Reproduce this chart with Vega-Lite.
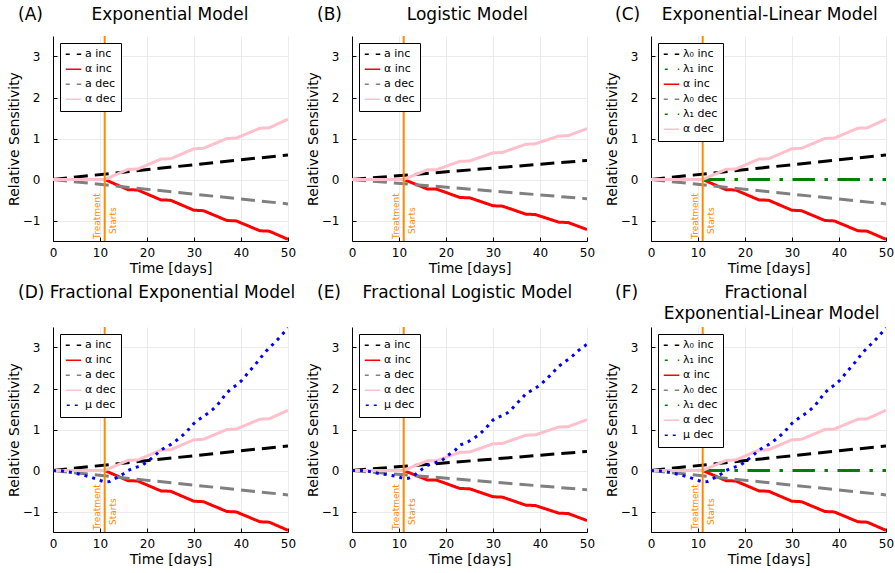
{
  "$schema": "https://vega.github.io/schema/vega-lite/v6.json",
  "padding": {"left": 7, "top": 6, "right": 0, "bottom": 0},
  "background": "white",
  "columns": 3,
  "bounds": "flush",
  "spacing": {"row": 86, "column": 64},
  "data": {"values": [
    {"ps": ["A","D"], "s": "a inc", "t": 0, "v": 0},
    {"ps": ["A","D"], "s": "a inc", "t": 50, "v": 0.6},
    {"ps": ["B","E"], "s": "a inc", "t": 0, "v": 0},
    {"ps": ["B","E"], "s": "a inc", "t": 50, "v": 0.465},
    {"ps": ["C","F"], "s": "λ₀ inc", "t": 0, "v": 0},
    {"ps": ["C","F"], "s": "λ₀ inc", "t": 50, "v": 0.6},
    {"ps": ["C","F"], "s": "λ₁ inc", "t": 11, "v": 0},
    {"ps": ["C","F"], "s": "λ₁ inc", "t": 50, "v": 0},
    {"ps": ["A","C","D","F"], "s": "α inc", "t": 0, "v": 0},
    {"ps": ["A","C","D","F"], "s": "α inc", "t": 11, "v": 0},
    {"ps": ["A","C","D","F"], "s": "α inc", "t": 16, "v": -0.25},
    {"ps": ["A","C","D","F"], "s": "α inc", "t": 18, "v": -0.255},
    {"ps": ["A","C","D","F"], "s": "α inc", "t": 23, "v": -0.5},
    {"ps": ["A","C","D","F"], "s": "α inc", "t": 25, "v": -0.505},
    {"ps": ["A","C","D","F"], "s": "α inc", "t": 30, "v": -0.75},
    {"ps": ["A","C","D","F"], "s": "α inc", "t": 32, "v": -0.76},
    {"ps": ["A","C","D","F"], "s": "α inc", "t": 37, "v": -1.0},
    {"ps": ["A","C","D","F"], "s": "α inc", "t": 39, "v": -1.01},
    {"ps": ["A","C","D","F"], "s": "α inc", "t": 44, "v": -1.25},
    {"ps": ["A","C","D","F"], "s": "α inc", "t": 46, "v": -1.26},
    {"ps": ["A","C","D","F"], "s": "α inc", "t": 50, "v": -1.46},
    {"ps": ["B","E"], "s": "α inc", "t": 0, "v": 0},
    {"ps": ["B","E"], "s": "α inc", "t": 11, "v": 0},
    {"ps": ["B","E"], "s": "α inc", "t": 16, "v": -0.23},
    {"ps": ["B","E"], "s": "α inc", "t": 18, "v": -0.235},
    {"ps": ["B","E"], "s": "α inc", "t": 23, "v": -0.44},
    {"ps": ["B","E"], "s": "α inc", "t": 25, "v": -0.445},
    {"ps": ["B","E"], "s": "α inc", "t": 30, "v": -0.64},
    {"ps": ["B","E"], "s": "α inc", "t": 32, "v": -0.65},
    {"ps": ["B","E"], "s": "α inc", "t": 37, "v": -0.845},
    {"ps": ["B","E"], "s": "α inc", "t": 39, "v": -0.855},
    {"ps": ["B","E"], "s": "α inc", "t": 44, "v": -1.04},
    {"ps": ["B","E"], "s": "α inc", "t": 46, "v": -1.05},
    {"ps": ["B","E"], "s": "α inc", "t": 50, "v": -1.22},
    {"ps": ["A","D"], "s": "a dec", "t": 0, "v": 0},
    {"ps": ["A","D"], "s": "a dec", "t": 50, "v": -0.595},
    {"ps": ["B","E"], "s": "a dec", "t": 0, "v": 0},
    {"ps": ["B","E"], "s": "a dec", "t": 50, "v": -0.47},
    {"ps": ["C","F"], "s": "λ₀ dec", "t": 0, "v": 0},
    {"ps": ["C","F"], "s": "λ₀ dec", "t": 50, "v": -0.595},
    {"ps": ["C","F"], "s": "λ₁ dec", "t": 11, "v": 0},
    {"ps": ["C","F"], "s": "λ₁ dec", "t": 50, "v": 0},
    {"ps": ["A","C","D","F"], "s": "α dec", "t": 0, "v": 0},
    {"ps": ["A","C","D","F"], "s": "α dec", "t": 11, "v": 0},
    {"ps": ["A","C","D","F"], "s": "α dec", "t": 16, "v": 0.25},
    {"ps": ["A","C","D","F"], "s": "α dec", "t": 18, "v": 0.255},
    {"ps": ["A","C","D","F"], "s": "α dec", "t": 23, "v": 0.5},
    {"ps": ["A","C","D","F"], "s": "α dec", "t": 25, "v": 0.505},
    {"ps": ["A","C","D","F"], "s": "α dec", "t": 30, "v": 0.75},
    {"ps": ["A","C","D","F"], "s": "α dec", "t": 32, "v": 0.76},
    {"ps": ["A","C","D","F"], "s": "α dec", "t": 37, "v": 1.0},
    {"ps": ["A","C","D","F"], "s": "α dec", "t": 39, "v": 1.01},
    {"ps": ["A","C","D","F"], "s": "α dec", "t": 44, "v": 1.25},
    {"ps": ["A","C","D","F"], "s": "α dec", "t": 46, "v": 1.26},
    {"ps": ["A","C","D","F"], "s": "α dec", "t": 50, "v": 1.47},
    {"ps": ["B","E"], "s": "α dec", "t": 0, "v": 0},
    {"ps": ["B","E"], "s": "α dec", "t": 11, "v": 0},
    {"ps": ["B","E"], "s": "α dec", "t": 16, "v": 0.235},
    {"ps": ["B","E"], "s": "α dec", "t": 18, "v": 0.24},
    {"ps": ["B","E"], "s": "α dec", "t": 23, "v": 0.445},
    {"ps": ["B","E"], "s": "α dec", "t": 25, "v": 0.45},
    {"ps": ["B","E"], "s": "α dec", "t": 30, "v": 0.65},
    {"ps": ["B","E"], "s": "α dec", "t": 32, "v": 0.66},
    {"ps": ["B","E"], "s": "α dec", "t": 37, "v": 0.86},
    {"ps": ["B","E"], "s": "α dec", "t": 39, "v": 0.87},
    {"ps": ["B","E"], "s": "α dec", "t": 44, "v": 1.06},
    {"ps": ["B","E"], "s": "α dec", "t": 46, "v": 1.07},
    {"ps": ["B","E"], "s": "α dec", "t": 50, "v": 1.24},
    {"ps": ["D","F"], "s": "μ dec", "t": 0, "v": 0},
    {"ps": ["D","F"], "s": "μ dec", "t": 1, "v": -0.005},
    {"ps": ["D","F"], "s": "μ dec", "t": 2, "v": -0.01},
    {"ps": ["D","F"], "s": "μ dec", "t": 3, "v": -0.03},
    {"ps": ["D","F"], "s": "μ dec", "t": 4, "v": -0.05},
    {"ps": ["D","F"], "s": "μ dec", "t": 5, "v": -0.07},
    {"ps": ["D","F"], "s": "μ dec", "t": 6, "v": -0.1},
    {"ps": ["D","F"], "s": "μ dec", "t": 7, "v": -0.13},
    {"ps": ["D","F"], "s": "μ dec", "t": 8, "v": -0.16},
    {"ps": ["D","F"], "s": "μ dec", "t": 9, "v": -0.2},
    {"ps": ["D","F"], "s": "μ dec", "t": 10, "v": -0.24},
    {"ps": ["D","F"], "s": "μ dec", "t": 11, "v": -0.28},
    {"ps": ["D","F"], "s": "μ dec", "t": 12, "v": -0.27},
    {"ps": ["D","F"], "s": "μ dec", "t": 13, "v": -0.21},
    {"ps": ["D","F"], "s": "μ dec", "t": 14, "v": -0.15},
    {"ps": ["D","F"], "s": "μ dec", "t": 15, "v": -0.08},
    {"ps": ["D","F"], "s": "μ dec", "t": 16, "v": 0.0},
    {"ps": ["D","F"], "s": "μ dec", "t": 17, "v": 0.05},
    {"ps": ["D","F"], "s": "μ dec", "t": 18, "v": 0.09},
    {"ps": ["D","F"], "s": "μ dec", "t": 19, "v": 0.13},
    {"ps": ["D","F"], "s": "μ dec", "t": 20, "v": 0.21},
    {"ps": ["D","F"], "s": "μ dec", "t": 21, "v": 0.3},
    {"ps": ["D","F"], "s": "μ dec", "t": 22, "v": 0.4},
    {"ps": ["D","F"], "s": "μ dec", "t": 23, "v": 0.5},
    {"ps": ["D","F"], "s": "μ dec", "t": 24, "v": 0.57},
    {"ps": ["D","F"], "s": "μ dec", "t": 25, "v": 0.63},
    {"ps": ["D","F"], "s": "μ dec", "t": 26, "v": 0.71},
    {"ps": ["D","F"], "s": "μ dec", "t": 27, "v": 0.8},
    {"ps": ["D","F"], "s": "μ dec", "t": 28, "v": 0.9},
    {"ps": ["D","F"], "s": "μ dec", "t": 29, "v": 1.02},
    {"ps": ["D","F"], "s": "μ dec", "t": 30, "v": 1.15},
    {"ps": ["D","F"], "s": "μ dec", "t": 31, "v": 1.24},
    {"ps": ["D","F"], "s": "μ dec", "t": 32, "v": 1.32},
    {"ps": ["D","F"], "s": "μ dec", "t": 33, "v": 1.4},
    {"ps": ["D","F"], "s": "μ dec", "t": 34, "v": 1.49},
    {"ps": ["D","F"], "s": "μ dec", "t": 35, "v": 1.6},
    {"ps": ["D","F"], "s": "μ dec", "t": 36, "v": 1.75},
    {"ps": ["D","F"], "s": "μ dec", "t": 37, "v": 1.9},
    {"ps": ["D","F"], "s": "μ dec", "t": 38, "v": 2.0},
    {"ps": ["D","F"], "s": "μ dec", "t": 39, "v": 2.08},
    {"ps": ["D","F"], "s": "μ dec", "t": 40, "v": 2.18},
    {"ps": ["D","F"], "s": "μ dec", "t": 41, "v": 2.31},
    {"ps": ["D","F"], "s": "μ dec", "t": 42, "v": 2.45},
    {"ps": ["D","F"], "s": "μ dec", "t": 43, "v": 2.58},
    {"ps": ["D","F"], "s": "μ dec", "t": 44, "v": 2.72},
    {"ps": ["D","F"], "s": "μ dec", "t": 45, "v": 2.87},
    {"ps": ["D","F"], "s": "μ dec", "t": 46, "v": 2.99},
    {"ps": ["D","F"], "s": "μ dec", "t": 47, "v": 3.1},
    {"ps": ["D","F"], "s": "μ dec", "t": 48, "v": 3.22},
    {"ps": ["D","F"], "s": "μ dec", "t": 49, "v": 3.35},
    {"ps": ["D","F"], "s": "μ dec", "t": 50, "v": 3.48},
    {"ps": ["E"], "s": "μ dec", "t": 0, "v": 0},
    {"ps": ["E"], "s": "μ dec", "t": 2, "v": 0},
    {"ps": ["E"], "s": "μ dec", "t": 4, "v": -0.03},
    {"ps": ["E"], "s": "μ dec", "t": 6, "v": -0.08},
    {"ps": ["E"], "s": "μ dec", "t": 8, "v": -0.11},
    {"ps": ["E"], "s": "μ dec", "t": 10, "v": -0.16},
    {"ps": ["E"], "s": "μ dec", "t": 11, "v": -0.2},
    {"ps": ["E"], "s": "μ dec", "t": 12, "v": -0.19},
    {"ps": ["E"], "s": "μ dec", "t": 13, "v": -0.14},
    {"ps": ["E"], "s": "μ dec", "t": 14, "v": -0.05},
    {"ps": ["E"], "s": "μ dec", "t": 15, "v": 0.04},
    {"ps": ["E"], "s": "μ dec", "t": 16, "v": 0.12},
    {"ps": ["E"], "s": "μ dec", "t": 17, "v": 0.17},
    {"ps": ["E"], "s": "μ dec", "t": 18, "v": 0.2},
    {"ps": ["E"], "s": "μ dec", "t": 19, "v": 0.23},
    {"ps": ["E"], "s": "μ dec", "t": 20, "v": 0.33},
    {"ps": ["E"], "s": "μ dec", "t": 21, "v": 0.42},
    {"ps": ["E"], "s": "μ dec", "t": 22, "v": 0.5},
    {"ps": ["E"], "s": "μ dec", "t": 23, "v": 0.62},
    {"ps": ["E"], "s": "μ dec", "t": 24, "v": 0.67},
    {"ps": ["E"], "s": "μ dec", "t": 25, "v": 0.72},
    {"ps": ["E"], "s": "μ dec", "t": 26, "v": 0.79},
    {"ps": ["E"], "s": "μ dec", "t": 27, "v": 0.87},
    {"ps": ["E"], "s": "μ dec", "t": 28, "v": 0.98},
    {"ps": ["E"], "s": "μ dec", "t": 29, "v": 1.1},
    {"ps": ["E"], "s": "μ dec", "t": 30, "v": 1.23},
    {"ps": ["E"], "s": "μ dec", "t": 31, "v": 1.29},
    {"ps": ["E"], "s": "μ dec", "t": 32, "v": 1.34},
    {"ps": ["E"], "s": "μ dec", "t": 33, "v": 1.4},
    {"ps": ["E"], "s": "μ dec", "t": 34, "v": 1.5},
    {"ps": ["E"], "s": "μ dec", "t": 35, "v": 1.63},
    {"ps": ["E"], "s": "μ dec", "t": 36, "v": 1.74},
    {"ps": ["E"], "s": "μ dec", "t": 37, "v": 1.87},
    {"ps": ["E"], "s": "μ dec", "t": 38, "v": 1.94},
    {"ps": ["E"], "s": "μ dec", "t": 39, "v": 2.01},
    {"ps": ["E"], "s": "μ dec", "t": 40, "v": 2.08},
    {"ps": ["E"], "s": "μ dec", "t": 41, "v": 2.19},
    {"ps": ["E"], "s": "μ dec", "t": 42, "v": 2.3},
    {"ps": ["E"], "s": "μ dec", "t": 43, "v": 2.42},
    {"ps": ["E"], "s": "μ dec", "t": 44, "v": 2.54},
    {"ps": ["E"], "s": "μ dec", "t": 45, "v": 2.63},
    {"ps": ["E"], "s": "μ dec", "t": 46, "v": 2.71},
    {"ps": ["E"], "s": "μ dec", "t": 47, "v": 2.8},
    {"ps": ["E"], "s": "μ dec", "t": 48, "v": 2.91},
    {"ps": ["E"], "s": "μ dec", "t": 49, "v": 3.0},
    {"ps": ["E"], "s": "μ dec", "t": 50, "v": 3.08}
  ]},
  "resolve": {"scale": {"color": "independent", "strokeDash": "independent"}, "legend": {"color": "independent", "strokeDash": "independent"}},
  "concat": [
    {
      "width": 235, "height": 205,
      "title": {"text": "(A)\u00a0\u00a0\u00a0\u00a0\u00a0\u00a0\u00a0\u00a0\u00a0Exponential Model", "dx": -35, "offset": 11},
      "layer": [
        {
          "transform": [{"flatten": ["ps"], "as": ["p"]}, {"filter": "datum.p === 'A'"}],
          "mark": {"type": "line", "strokeWidth": 3, "clip": true},
          "encoding": {
            "x": {"field": "t", "type": "quantitative", "scale": {"domain": [0, 50], "nice": false}, "axis": {"values": [0, 10, 20, 30, 40, 50], "title": "Time [days]"}},
            "y": {"field": "v", "type": "quantitative", "scale": {"domain": [-1.5, 3.5], "nice": false, "zero": false}, "axis": {"values": [-1, 0, 1, 2, 3], "title": "Relative Sensitivity"}},
            "color": {"field": "s", "type": "nominal", "scale": {"domain": ["a inc", "α inc", "a dec", "α dec"], "range": ["#000000", "#ff0000", "#808080", "#ffc0cb"]}, "legend": {"title": null}},
            "strokeDash": {"field": "s", "type": "nominal", "scale": {"domain": ["a inc", "α inc", "a dec", "α dec"], "range": [[14, 7], [1, 0], [14, 7], [1, 0]]}, "legend": {"title": null}}
          }
        },
        {"data": {"values": [{}]}, "mark": {"type": "rule", "color": "#ff8a00", "strokeWidth": 2}, "encoding": {"x": {"datum": 11}}},
        {"data": {"values": [{}]}, "mark": {"type": "text", "text": "Treatment", "angle": 270, "align": "left", "baseline": "bottom", "dy": -3, "fontSize": 9, "color": "#ff8a00"}, "encoding": {"x": {"datum": 11}, "y": {"datum": -1.45}}},
        {"data": {"values": [{}]}, "mark": {"type": "text", "text": "Starts", "angle": 270, "align": "left", "baseline": "top", "dy": 4, "fontSize": 9, "color": "#ff8a00"}, "encoding": {"x": {"datum": 11}, "y": {"datum": -1.33}}}
      ]
    },
    {
      "width": 235, "height": 205,
      "title": {"text": "(B)\u00a0\u00a0\u00a0\u00a0\u00a0\u00a0\u00a0\u00a0\u00a0\u00a0\u00a0\u00a0Logistic Model", "dx": -35, "offset": 11},
      "layer": [
        {
          "transform": [{"flatten": ["ps"], "as": ["p"]}, {"filter": "datum.p === 'B'"}],
          "mark": {"type": "line", "strokeWidth": 3, "clip": true},
          "encoding": {
            "x": {"field": "t", "type": "quantitative", "scale": {"domain": [0, 50], "nice": false}, "axis": {"values": [0, 10, 20, 30, 40, 50], "title": "Time [days]"}},
            "y": {"field": "v", "type": "quantitative", "scale": {"domain": [-1.5, 3.5], "nice": false, "zero": false}, "axis": {"values": [-1, 0, 1, 2, 3], "title": "Relative Sensitivity"}},
            "color": {"field": "s", "type": "nominal", "scale": {"domain": ["a inc", "α inc", "a dec", "α dec"], "range": ["#000000", "#ff0000", "#808080", "#ffc0cb"]}, "legend": {"title": null}},
            "strokeDash": {"field": "s", "type": "nominal", "scale": {"domain": ["a inc", "α inc", "a dec", "α dec"], "range": [[14, 7], [1, 0], [14, 7], [1, 0]]}, "legend": {"title": null}}
          }
        },
        {"data": {"values": [{}]}, "mark": {"type": "rule", "color": "#ff8a00", "strokeWidth": 2}, "encoding": {"x": {"datum": 11}}},
        {"data": {"values": [{}]}, "mark": {"type": "text", "text": "Treatment", "angle": 270, "align": "left", "baseline": "bottom", "dy": -3, "fontSize": 9, "color": "#ff8a00"}, "encoding": {"x": {"datum": 11}, "y": {"datum": -1.45}}},
        {"data": {"values": [{}]}, "mark": {"type": "text", "text": "Starts", "angle": 270, "align": "left", "baseline": "top", "dy": 4, "fontSize": 9, "color": "#ff8a00"}, "encoding": {"x": {"datum": 11}, "y": {"datum": -1.33}}}
      ]
    },
    {
      "width": 235, "height": 205,
      "title": {"text": "(C)\u00a0\u00a0\u00a0\u00a0Exponential-Linear Model", "dx": -36, "offset": 11},
      "layer": [
        {
          "transform": [{"flatten": ["ps"], "as": ["p"]}, {"filter": "datum.p === 'C'"}],
          "mark": {"type": "line", "strokeWidth": 3, "clip": true},
          "encoding": {
            "x": {"field": "t", "type": "quantitative", "scale": {"domain": [0, 50], "nice": false}, "axis": {"values": [0, 10, 20, 30, 40, 50], "title": "Time [days]"}},
            "y": {"field": "v", "type": "quantitative", "scale": {"domain": [-1.5, 3.5], "nice": false, "zero": false}, "axis": {"values": [-1, 0, 1, 2, 3], "title": "Relative Sensitivity"}},
            "color": {"field": "s", "type": "nominal", "scale": {"domain": ["λ₀ inc", "λ₁ inc", "α inc", "λ₀ dec", "λ₁ dec", "α dec"], "range": ["#000000", "#008000", "#ff0000", "#808080", "#008000", "#ffc0cb"]}, "legend": {"title": null}},
            "strokeDash": {"field": "s", "type": "nominal", "scale": {"domain": ["λ₀ inc", "λ₁ inc", "α inc", "λ₀ dec", "λ₁ dec", "α dec"], "range": [[14, 7], [22, 10, 3, 10], [1, 0], [14, 7], [22, 10, 3, 10], [1, 0]]}, "legend": {"title": null}}
          }
        },
        {"data": {"values": [{}]}, "mark": {"type": "rule", "color": "#ff8a00", "strokeWidth": 2}, "encoding": {"x": {"datum": 11}}},
        {"data": {"values": [{}]}, "mark": {"type": "text", "text": "Treatment", "angle": 270, "align": "left", "baseline": "bottom", "dy": -3, "fontSize": 9, "color": "#ff8a00"}, "encoding": {"x": {"datum": 11}, "y": {"datum": -1.45}}},
        {"data": {"values": [{}]}, "mark": {"type": "text", "text": "Starts", "angle": 270, "align": "left", "baseline": "top", "dy": 4, "fontSize": 9, "color": "#ff8a00"}, "encoding": {"x": {"datum": 11}, "y": {"datum": -1.33}}}
      ]
    },
    {
      "width": 235, "height": 205,
      "title": {"text": "(D) Fractional Exponential Model", "dx": -35, "offset": 24},
      "layer": [
        {
          "transform": [{"flatten": ["ps"], "as": ["p"]}, {"filter": "datum.p === 'D'"}],
          "mark": {"type": "line", "strokeWidth": 3, "clip": true},
          "encoding": {
            "x": {"field": "t", "type": "quantitative", "scale": {"domain": [0, 50], "nice": false}, "axis": {"values": [0, 10, 20, 30, 40, 50], "title": "Time [days]"}},
            "y": {"field": "v", "type": "quantitative", "scale": {"domain": [-1.5, 3.5], "nice": false, "zero": false}, "axis": {"values": [-1, 0, 1, 2, 3], "title": "Relative Sensitivity"}},
            "color": {"field": "s", "type": "nominal", "scale": {"domain": ["a inc", "α inc", "a dec", "α dec", "μ dec"], "range": ["#000000", "#ff0000", "#808080", "#ffc0cb", "#0000ff"]}, "legend": {"title": null}},
            "strokeDash": {"field": "s", "type": "nominal", "scale": {"domain": ["a inc", "α inc", "a dec", "α dec", "μ dec"], "range": [[14, 7], [1, 0], [14, 7], [1, 0], [3, 5]]}, "legend": {"title": null}}
          }
        },
        {"data": {"values": [{}]}, "mark": {"type": "rule", "color": "#ff8a00", "strokeWidth": 2}, "encoding": {"x": {"datum": 11}}},
        {"data": {"values": [{}]}, "mark": {"type": "text", "text": "Treatment", "angle": 270, "align": "left", "baseline": "bottom", "dy": -3, "fontSize": 9, "color": "#ff8a00"}, "encoding": {"x": {"datum": 11}, "y": {"datum": -1.45}}},
        {"data": {"values": [{}]}, "mark": {"type": "text", "text": "Starts", "angle": 270, "align": "left", "baseline": "top", "dy": 4, "fontSize": 9, "color": "#ff8a00"}, "encoding": {"x": {"datum": 11}, "y": {"datum": -1.33}}}
      ]
    },
    {
      "width": 235, "height": 205,
      "title": {"text": "(E)\u00a0\u00a0\u00a0\u00a0Fractional Logistic Model", "dx": -35, "offset": 24},
      "layer": [
        {
          "transform": [{"flatten": ["ps"], "as": ["p"]}, {"filter": "datum.p === 'E'"}],
          "mark": {"type": "line", "strokeWidth": 3, "clip": true},
          "encoding": {
            "x": {"field": "t", "type": "quantitative", "scale": {"domain": [0, 50], "nice": false}, "axis": {"values": [0, 10, 20, 30, 40, 50], "title": "Time [days]"}},
            "y": {"field": "v", "type": "quantitative", "scale": {"domain": [-1.5, 3.5], "nice": false, "zero": false}, "axis": {"values": [-1, 0, 1, 2, 3], "title": "Relative Sensitivity"}},
            "color": {"field": "s", "type": "nominal", "scale": {"domain": ["a inc", "α inc", "a dec", "α dec", "μ dec"], "range": ["#000000", "#ff0000", "#808080", "#ffc0cb", "#0000ff"]}, "legend": {"title": null}},
            "strokeDash": {"field": "s", "type": "nominal", "scale": {"domain": ["a inc", "α inc", "a dec", "α dec", "μ dec"], "range": [[14, 7], [1, 0], [14, 7], [1, 0], [3, 5]]}, "legend": {"title": null}}
          }
        },
        {"data": {"values": [{}]}, "mark": {"type": "rule", "color": "#ff8a00", "strokeWidth": 2}, "encoding": {"x": {"datum": 11}}},
        {"data": {"values": [{}]}, "mark": {"type": "text", "text": "Treatment", "angle": 270, "align": "left", "baseline": "bottom", "dy": -3, "fontSize": 9, "color": "#ff8a00"}, "encoding": {"x": {"datum": 11}, "y": {"datum": -1.45}}},
        {"data": {"values": [{}]}, "mark": {"type": "text", "text": "Starts", "angle": 270, "align": "left", "baseline": "top", "dy": 4, "fontSize": 9, "color": "#ff8a00"}, "encoding": {"x": {"datum": 11}, "y": {"datum": -1.33}}}
      ]
    },
    {
      "width": 235, "height": 205,
      "title": {"text": ["(F)\u00a0\u00a0\u00a0\u00a0\u00a0\u00a0\u00a0\u00a0\u00a0\u00a0\u00a0\u00a0\u00a0\u00a0\u00a0\u00a0Fractional", "\u200b\u00a0\u00a0\u00a0\u00a0\u00a0\u00a0\u00a0\u00a0\u00a0Exponential-Linear Model"], "dx": -36, "offset": 3},
      "layer": [
        {
          "transform": [{"flatten": ["ps"], "as": ["p"]}, {"filter": "datum.p === 'F'"}],
          "mark": {"type": "line", "strokeWidth": 3, "clip": true},
          "encoding": {
            "x": {"field": "t", "type": "quantitative", "scale": {"domain": [0, 50], "nice": false}, "axis": {"values": [0, 10, 20, 30, 40, 50], "title": "Time [days]"}},
            "y": {"field": "v", "type": "quantitative", "scale": {"domain": [-1.5, 3.5], "nice": false, "zero": false}, "axis": {"values": [-1, 0, 1, 2, 3], "title": "Relative Sensitivity"}},
            "color": {"field": "s", "type": "nominal", "scale": {"domain": ["λ₀ inc", "λ₁ inc", "α inc", "λ₀ dec", "λ₁ dec", "α dec", "μ dec"], "range": ["#000000", "#008000", "#ff0000", "#808080", "#008000", "#ffc0cb", "#0000ff"]}, "legend": {"title": null}},
            "strokeDash": {"field": "s", "type": "nominal", "scale": {"domain": ["λ₀ inc", "λ₁ inc", "α inc", "λ₀ dec", "λ₁ dec", "α dec", "μ dec"], "range": [[14, 7], [22, 10, 3, 10], [1, 0], [14, 7], [22, 10, 3, 10], [1, 0], [3, 5]]}, "legend": {"title": null}}
          }
        },
        {"data": {"values": [{}]}, "mark": {"type": "rule", "color": "#ff8a00", "strokeWidth": 2}, "encoding": {"x": {"datum": 11}}},
        {"data": {"values": [{}]}, "mark": {"type": "text", "text": "Treatment", "angle": 270, "align": "left", "baseline": "bottom", "dy": -3, "fontSize": 9, "color": "#ff8a00"}, "encoding": {"x": {"datum": 11}, "y": {"datum": -1.45}}},
        {"data": {"values": [{}]}, "mark": {"type": "text", "text": "Starts", "angle": 270, "align": "left", "baseline": "top", "dy": 4, "fontSize": 9, "color": "#ff8a00"}, "encoding": {"x": {"datum": 11}, "y": {"datum": -1.33}}}
      ]
    }
  ],
  "config": {
    "font": "DejaVu Sans",
    "view": {"stroke": null},
    "title": {"font": "DejaVu Sans", "fontSize": 17, "fontWeight": "normal", "color": "#000000", "anchor": "start", "frame": "group", "baseline": "alphabetic", "lineHeight": 21},
    "axis": {"domainColor": "#000000", "domainWidth": 1, "tickColor": "#000000", "tickSize": -4, "gridColor": "#e6e6e6", "gridWidth": 0.8, "labelFlush": false, "labelFont": "DejaVu Sans", "labelFontSize": 12, "labelColor": "#000000", "titleFont": "DejaVu Sans", "titleFontSize": 14, "titleFontWeight": "normal", "titleColor": "#000000"},
    "axisX": {"labelPadding": 10, "titlePadding": 3},
    "axisY": {"labelPadding": 17, "titlePadding": 1},
    "legend": {
      "orient": "top-left", "offset": 7, "padding": 5, "strokeColor": "#000000", "fillColor": "#ffffff",
      "labelFont": "DejaVu Sans", "labelFontSize": 11, "labelColor": "#000000", "labelOffset": 3,
      "symbolType": "stroke", "symbolSize": 240, "symbolStrokeWidth": 1.5, "symbolDashOffset": 31, "clipHeight": 12.4, "rowPadding": 2,
      "cornerRadius": 0
    }
  }
}
